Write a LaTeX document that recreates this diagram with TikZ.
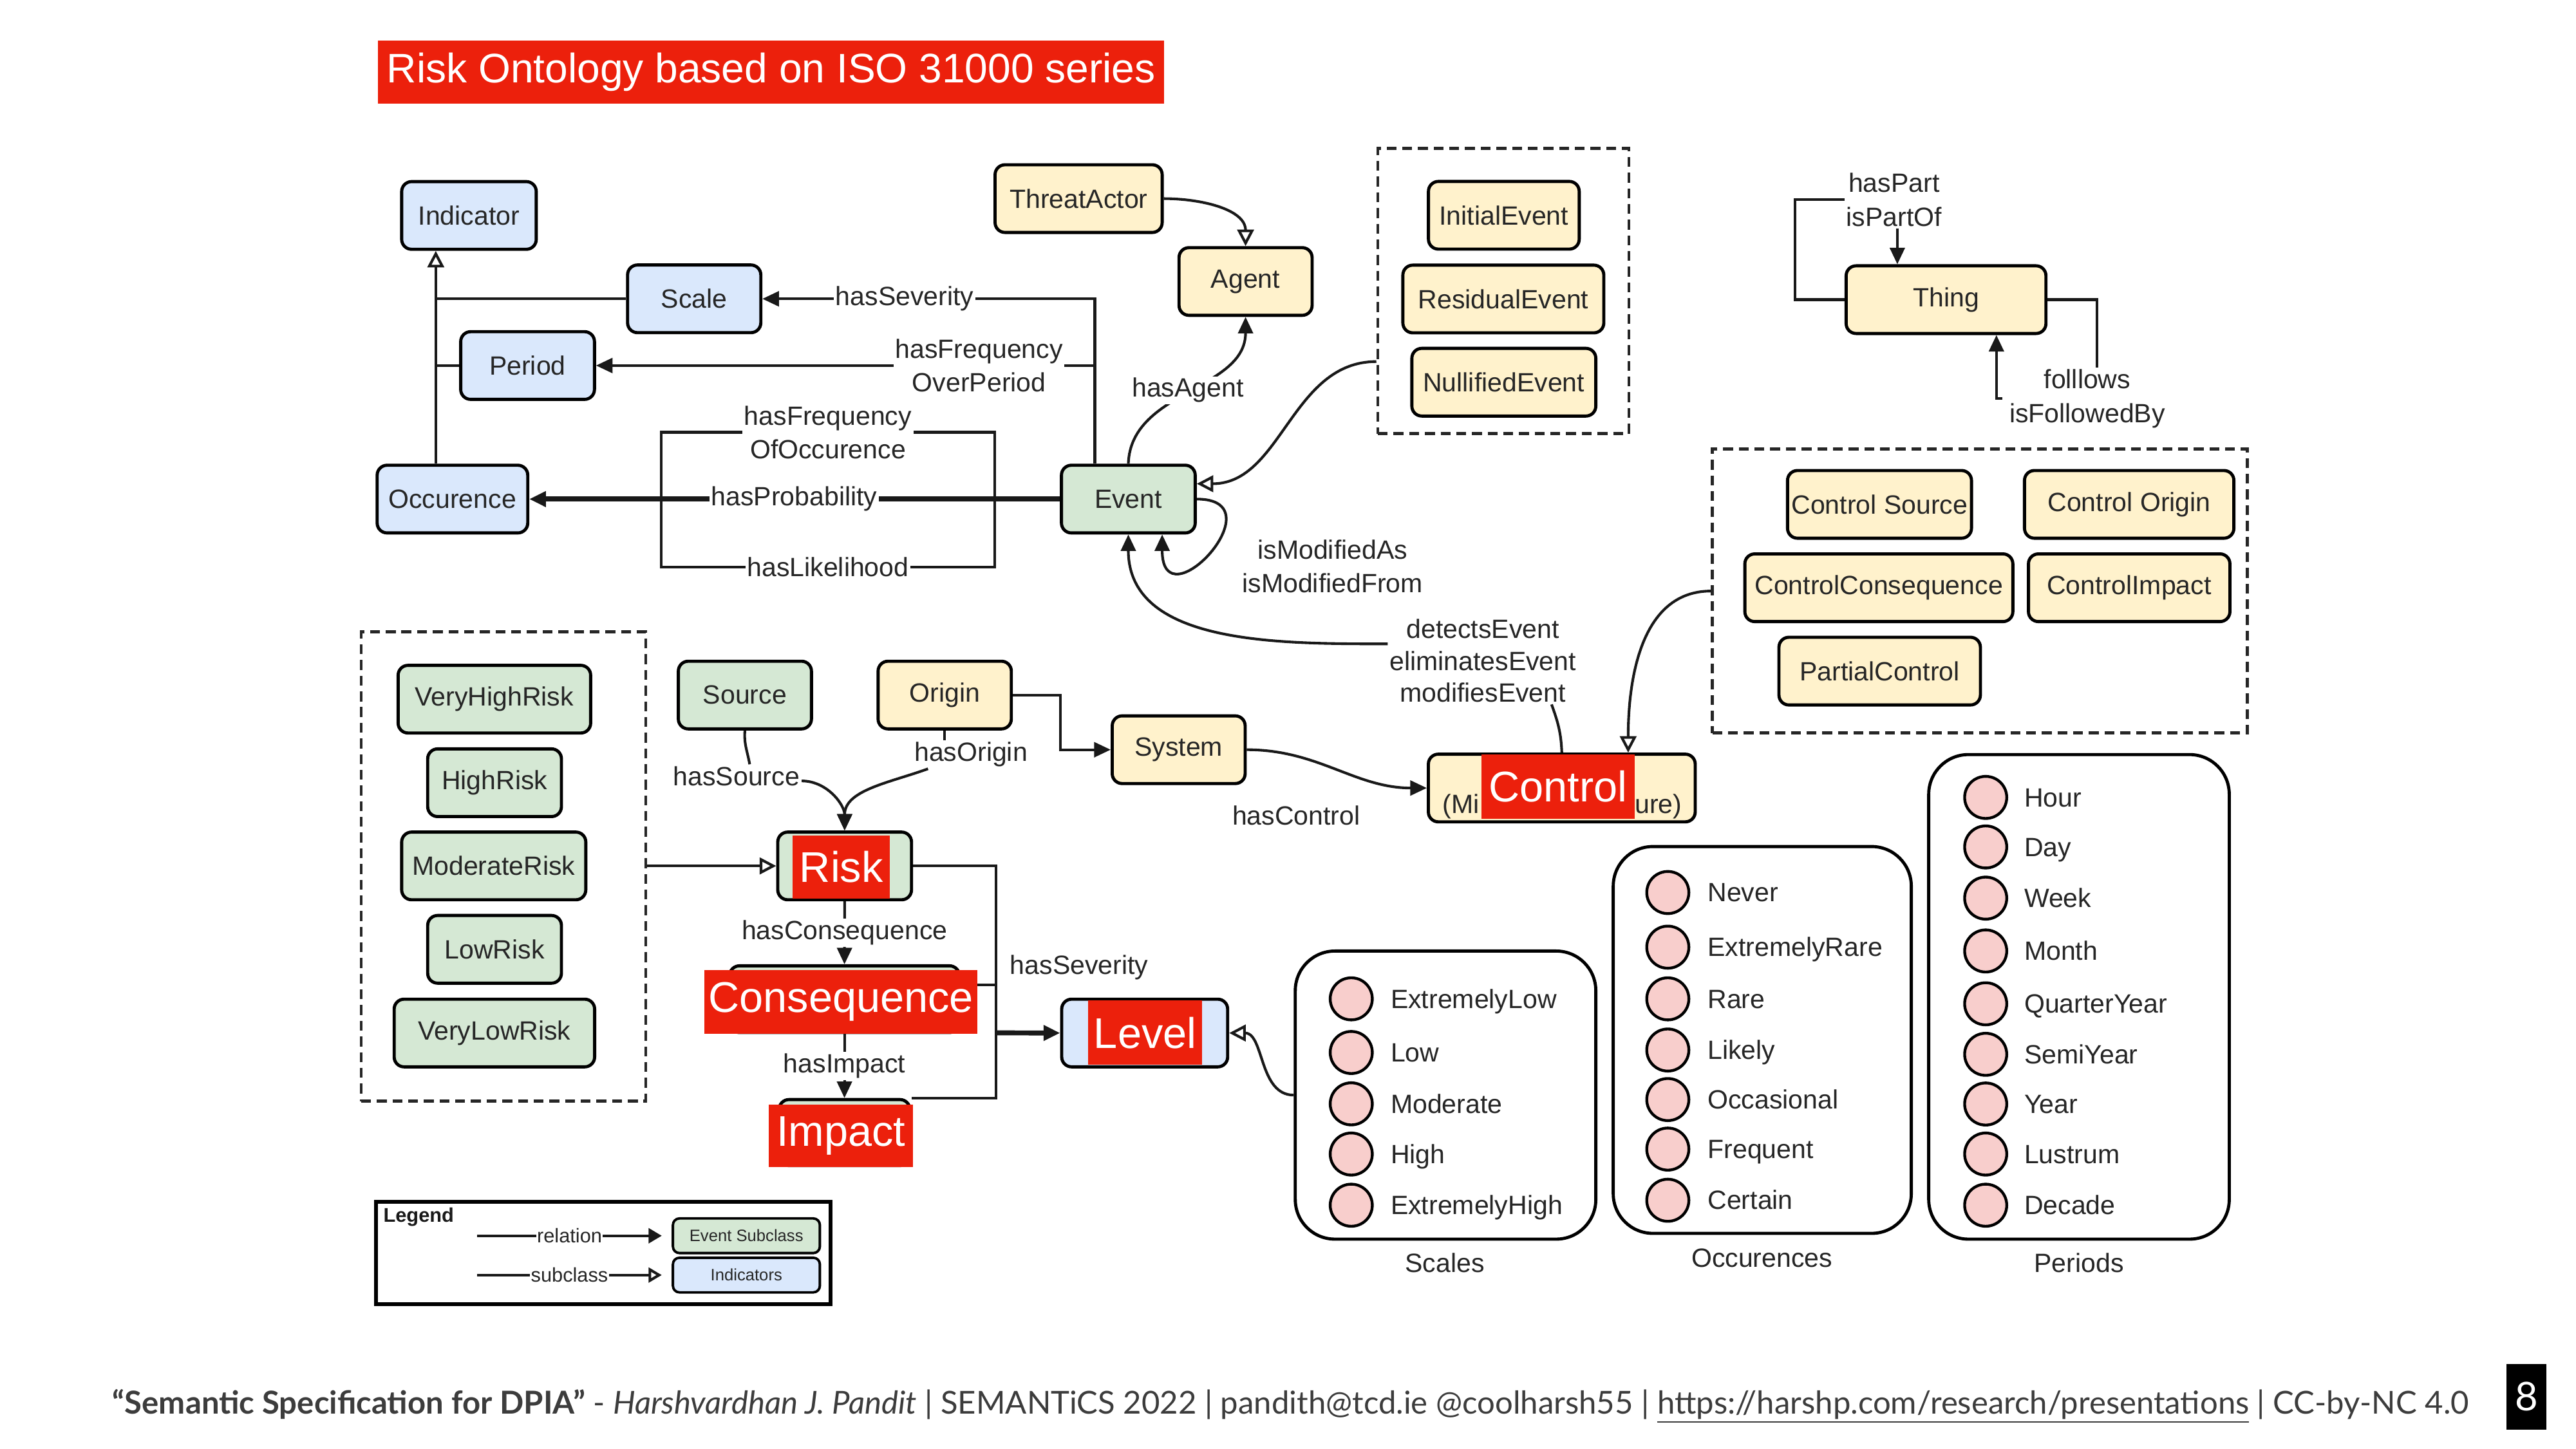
\documentclass[tikz,border=0pt]{standalone}
\usepackage{fontspec}
\setmainfont{Liberation Sans}
\newfontfamily\footfont{Lato}
\usetikzlibrary{arrows.meta,calc}
\definecolor{cgreen}{HTML}{D5E8D4}
\definecolor{cblue}{HTML}{DAE8FC}
\definecolor{cyellow}{HTML}{FFF2CC}
\definecolor{cpink}{HTML}{F8CECC}
\definecolor{cred}{RGB}{236,32,12}
\definecolor{cfoot}{RGB}{60,60,60}
\tikzset{
  box/.style={draw=black, line width=1.9pt, rounded corners=6pt, minimum height=41pt, inner sep=0pt, font=\fontsize{16}{20}\selectfont, text=black!85},
  gbox/.style={box, fill=cgreen},
  bbox/.style={box, fill=cblue},
  ybox/.style={box, fill=cyellow},
  dbox/.style={draw=black!85, line width=1.8pt, dash pattern=on 6pt off 3.5pt, inner sep=0pt},
  lbl/.style={fill=white, inner sep=1pt, font=\fontsize{16}{20.3}\selectfont, align=center, text=black!85},
  conn/.style={line width=1.6pt, draw=black!90},
  relarr/.style={conn, -{Triangle[length=10pt,width=9pt]}},
  subarr/.style={conn, -{Triangle[open,length=10pt,width=10pt]}},
  redlab/.style={fill=cred, text=white, font=\fontsize{26}{30}\selectfont, inner sep=0pt},
  enumbox/.style={draw=black, line width=1.9pt, rounded corners=24pt, fill=white, inner sep=0pt},
  pinkdot/.style={circle, draw=black, line width=1.7pt, fill=cpink, minimum size=25.5pt, inner sep=0pt},
  itemtxt/.style={anchor=base west, font=\fontsize{16}{20}\selectfont, inner sep=0pt, text=black!85},
  captxt/.style={font=\fontsize{16}{20}\selectfont, inner sep=0pt, text=black!85},
}
\begin{document}
\begin{tikzpicture}[x=1pt,y=-1pt]
\useasboundingbox (0,0) rectangle (1560,877.3);
\fill[white] (0,0) rectangle (1560,877.3);

% title
\node[fill=cred, text=white, font=\fontsize{25}{30}\selectfont, minimum width=476pt, minimum height=38pt, inner sep=0pt] (title) at (467,43.6) {Risk Ontology based on ISO 31000 series};

% indicator group
\node[bbox, minimum width=81.5pt] (ind) at (284,130.5) {Indicator};
\node[bbox, minimum width=80.7pt] (scl) at (420.4,181) {Scale};
\node[bbox, minimum width=81pt] (per) at (319.5,221.4) {Period};
\node[bbox, minimum width=91.2pt] (occ) at (274,302.3) {Occurence};
\node[gbox, minimum width=81pt] (ev) at (683.3,302.3) {Event};
\node[ybox, minimum width=101.2pt] (ta) at (653.2,120.3) {ThreatActor};
\node[ybox, minimum width=80.6pt] (ag) at (754.3,170.5) {Agent};

\node[dbox, minimum width=152pt, minimum height=172.8pt] (db1) at (910.4,176.2) {};
\node[ybox, minimum width=91.3pt] (ie) at (910.7,130.4) {InitialEvent};
\node[ybox, minimum width=121.7pt] (re) at (910.4,181.1) {ResidualEvent};
\node[ybox, minimum width=111.4pt] (ne) at (910.7,231.5) {NullifiedEvent};

% thing
\node[ybox, minimum width=121pt] (thing) at (1178.5,181.5) {Thing};
\node[lbl, fill=none] (lpart) at (1147,121) {hasPart\\isPartOf};
\node[lbl, fill=none] (lfol) at (1264,241.5) {folllows\\isFollowedBy};

% control group
\node[dbox, minimum width=324pt, minimum height=172pt] (db2) at (1199,358) {};
\node[ybox, minimum width=111.4pt] (cs) at (1138.2,305.5) {Control Source};
\node[ybox, minimum width=126.8pt] (co) at (1289.4,305.5) {Control Origin};
\node[ybox, minimum width=162.3pt] (cc) at (1137.8,356) {ControlConsequence};
\node[ybox, minimum width=122pt] (ci) at (1289.4,356) {ControlImpact};
\node[ybox, minimum width=122pt] (pc) at (1138.3,406.5) {PartialControl};

% risk levels
\node[dbox, minimum width=172.3pt, minimum height=284.3pt] (db3) at (304.85,524.85) {};
\node[gbox, minimum width=116.6pt] (vh) at (299.4,423.5) {VeryHighRisk};
\node[gbox, minimum width=81pt] (hr) at (299.5,474.1) {HighRisk};
\node[gbox, minimum width=111.5pt] (mr) at (299,524.5) {ModerateRisk};
\node[gbox, minimum width=81pt] (lr) at (299.5,575) {LowRisk};
\node[gbox, minimum width=121.4pt] (vl) at (299.4,625.7) {VeryLowRisk};

% risk core
\node[gbox, minimum width=80.6pt] (src) at (451.1,421) {Source};
\node[ybox, minimum width=80.7pt] (ori) at (572.1,421) {Origin};
\node[ybox, minimum width=80.5pt] (sys) at (713.8,454.1) {System};
\node[ybox, minimum width=161.6pt] (ctl) at (945.8,477.3) {};
\node[captxt, anchor=base west] (ctltxtA) at (873.5,492.6) {(Mi};
\node[captxt, anchor=base east] (ctltxtB) at (1018.8,492.6) {ure)};
\node[gbox, minimum width=81pt] (risk) at (511.5,524.5) {};
\node[gbox, minimum width=139.2pt, minimum height=40.4pt] (cons) at (511.4,605.2) {};
\node[gbox, minimum width=79.2pt, minimum height=40pt] (imp) at (511.4,686) {};
\node[bbox, minimum width=100.5pt] (lvl) at (693.2,625.7) {};

% enumerations
\node[enumbox, minimum width=182pt, minimum height=174.5pt] (sbox) at (875.4,663.3) {};
\node[enumbox, minimum width=180.5pt, minimum height=234.3pt] (obox) at (1067.2,629.9) {};
\node[enumbox, minimum width=182pt, minimum height=293.5pt] (pbox) at (1259,603.8) {};

\foreach \yy/\lab [count=\i] in {605/ExtremelyLow,637.5/Low,668.6/Moderate,699/High,730/ExtremelyHigh}{
  \node[pinkdot] (sd\i) at (818.3,\yy) {};
  \node[itemtxt] (st\i) at (842,\yy+5.6) {\lab};
}
\foreach \yy/\lab [count=\i] in {540.6/Never,573.7/ExtremelyRare,605/Rare,636/Likely,666/Occasional,696/Frequent,727/Certain}{
  \node[pinkdot] (od\i) at (1010,\yy) {};
  \node[itemtxt] (ot\i) at (1034,\yy+5.6) {\lab};
}
\foreach \yy/\lab [count=\i] in {483/Hour,513/Day,544/Week,576/Month,608/QuarterYear,638.6/SemiYear,668.7/Year,699/Lustrum,730/Decade}{
  \node[pinkdot] (pd\i) at (1202.5,\yy) {};
  \node[itemtxt] (pt\i) at (1225.7,\yy+5.6) {\lab};
}
\node[captxt] (scap) at (875,765) {Scales};
\node[captxt] (ocap) at (1067,762) {Occurences};
\node[captxt] (pcap) at (1259,765) {Periods};

% ---- connectors ----
\coordinate (indline) at ([xshift=-20.1pt]ind.south);
\draw[subarr] ([xshift=-10.1pt]occ.north) -- (indline);
\draw[conn] (scl.west) -- (scl.west -| indline);
\draw[conn] (per.west) -- (per.west -| indline);

\draw[relarr] ([xshift=-20.3pt]ev.north) |- node[lbl, pos=0.786] (lsev) {hasSeverity} (scl.east);
\draw[relarr] ([xshift=-20.3pt]ev.north) |- node[lbl, pos=0.616] (lfreq) {hasFrequency\\OverPeriod} (per.east);

\draw[conn] (400.3,261.8) rectangle (602.4,343.5);
\draw[relarr, line width=3pt] (ev.west) -- (occ.east);
\node[lbl] (lfoc) at (501.4,261.9) {hasFrequency\\OfOccurence};
\node[lbl] (lprob) at (481,302.3) {hasProbability};
\node[lbl] (llik) at (501.4,343.5) {hasLikelihood};

\draw[relarr] (ev.north) to[out=88,in=-90] node[lbl, pos=0.5] (lagent) {hasAgent} (ag.south);
\draw[subarr] (ta.east) to[out=0,in=90] (ag.north);
\draw[subarr] ([yshift=-42.8pt]db1.west) to[out=180,in=0] ([yshift=9.3pt]ev.east);
\draw[relarr] (ev.east) .. controls +(50,0) and +(0,55) .. ([xshift=20.5pt]ev.south);
\node[lbl, fill=none] (lmod) at (807,343) {isModifiedAs\\isModifiedFrom};

\node[lbl, font=\fontsize{16}{19.3}\selectfont] (ldet) at (898,400.3) {detectsEvent\\eliminatesEvent\\modifiesEvent};
\draw[conn] (ctl.north) to[out=92,in=-70] ([xshift=41.6pt]ldet.south);
\draw[relarr] ([yshift=10.3pt]ldet.west) to[out=180,in=-90] (ev.south);

\draw[conn] (thing.west) -| ([xshift=-30pt]lpart.west) -- (lpart.west);
\draw[relarr] ([xshift=2pt]lpart.south) -- ([xshift=2pt]lpart.south |- thing.north);
\draw[conn] (thing.east) -| ([xshift=6pt]lfol.north);
\draw[relarr] ([xshift=-3pt]lfol.west) -| ([xshift=30.5pt]thing.south);

\draw[subarr] (db2.west) to[out=180,in=90] ([xshift=40.2pt]ctl.north);

\draw[subarr] (db3.east |- risk.west) -- (risk.west);

\node[lbl, fill=none] (lsrc) at (446,470) {hasSource};
\draw[conn] (src.south) to[out=-95,in=100] ([xshift=8pt]lsrc.north);
\draw[relarr] ([yshift=-3pt]lsrc.east) to[out=0,in=90] (risk.north);
\node[lbl, fill=none] (lori) at (588,457) {hasOrigin};
\draw[conn] (ori.south) -- (ori.south |- lori.north);
\draw[relarr] ([xshift=-26pt]lori.south) to[out=200,in=90] (risk.north);

\draw[relarr] (ori.east) -| ([xshift=-30.5pt]sys.west) -- (sys.west);
\draw[relarr] (sys.east) to[out=0,in=180] (ctl.west);
\node[lbl, fill=none] (lctl) at (785,494) {hasControl};

\coordinate (bj) at (603,625.6);
\draw[conn] (risk.east) -| (bj |- imp.north) -- (imp.north east);
\draw[conn] ([yshift=8.5pt]cons.east) -- ([yshift=8.5pt]cons.east -| bj);
\draw[relarr, line width=3pt] (bj) -- (lvl.west);
\node[lbl, fill=none] (lsev2) at (653.5,586) {hasSeverity};
\draw[relarr] (risk.south) -- node[lbl] (lcons) {hasConsequence} (cons.north);
\draw[relarr] (cons.south) -- node[lbl] (limp) {hasImpact} (imp.north);

\draw[subarr] (sbox.west) to[out=180,in=0] (lvl.east);

% red overlays
\node[redlab, minimum width=59pt, minimum height=38.5pt] (riskR) at (509.5,525.2) {Risk};
\node[redlab, minimum width=165.4pt, minimum height=38.4pt] (consR) at (509.3,606.8) {Consequence};
\node[redlab, minimum width=87.5pt, minimum height=38pt] (impR) at (509.3,688) {Impact};
\node[redlab, minimum width=69pt, minimum height=39pt] (lvlR) at (693.5,625.5) {Level};
\node[redlab, minimum width=93pt, minimum height=39pt] (ctlR) at (943.5,476.5) {Control};

% legend
\node[draw=black, line width=2.3pt, minimum width=275pt, minimum height=62pt, inner sep=0pt] (leg) at (365.3,759) {};
\node[anchor=north west, font=\bfseries\fontsize{12}{14}\selectfont, inner sep=0pt, text=black!90] (legt) at (232,731.5) {Legend};
\node[gbox, minimum width=89pt, minimum height=21pt, rounded corners=4pt, line width=1.5pt, font=\fontsize{10}{12}\selectfont] (lg1) at (452,748.5) {Event Subclass};
\node[bbox, minimum width=89pt, minimum height=21pt, rounded corners=4pt, line width=1.5pt, font=\fontsize{10}{12}\selectfont] (lg2) at (452,772.3) {Indicators};
\coordinate (lr0) at (289,748.5);
\coordinate (ls0) at (289,772.3);
\draw[conn, -{Triangle[length=8pt,width=9pt]}] (lr0) -- node[lbl, font=\fontsize{12}{14}\selectfont, inner sep=0.5pt] (lrel) {relation} ([xshift=-6pt]lg1.west);
\draw[conn, -{Triangle[open,length=8pt,width=9pt]}] (ls0) -- node[lbl, font=\fontsize{12}{14}\selectfont, inner sep=0.5pt] (lsub) {subclass} ([xshift=-6pt]lg2.west);

% footer
\node[anchor=base west, inner sep=0pt, text=cfoot] (foot) at (68,856.5) {\resizebox{1427pt}{!}{\footfont\fontsize{18}{20}\selectfont{\bfseries “Semantic Specification for DPIA”} - {\itshape Harshvardhan J. Pandit} | SEMANTiCS 2022 | pandith@tcd.ie @coolharsh55 | \underline{https://harshp.com/research/presentations} | CC-by-NC 4.0}};
\node[fill=black, text=white, minimum width=24pt, minimum height=40pt, inner sep=0pt, font=\footfont\fontsize{24}{26}\selectfont] (pg) at (1530,846) {8};
\end{tikzpicture}
\end{document}
